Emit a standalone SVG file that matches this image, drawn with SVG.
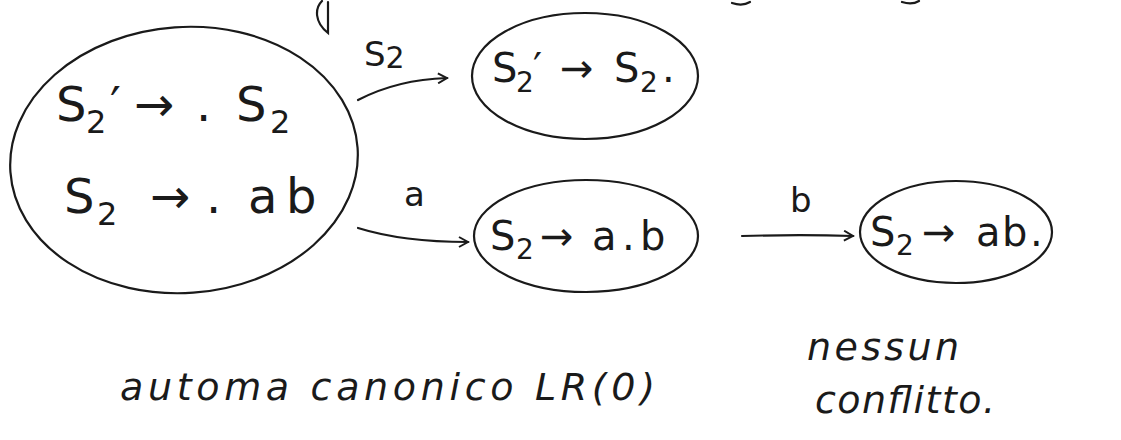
<svg xmlns="http://www.w3.org/2000/svg" width="1121" height="440" viewBox="0 0 1121 440">
<style>
.st{fill:none;stroke:#1a1a1a;stroke-width:2.2;stroke-linecap:round}
.t{font-family:"DejaVu Sans",sans-serif;fill:#1a1a1a}
.big{font-size:48px}
.bsub{font-size:32px}
.mid{font-size:40px}
.msub{font-size:28px}
.lbl{font-size:34px}
.note{font-size:38px;font-style:italic}
</style>
<defs>
<marker id="ah" viewBox="0 0 12 12" refX="10" refY="6" markerWidth="12" markerHeight="12" markerUnits="userSpaceOnUse" orient="auto">
<path d="M1,1 L10,6 L1,11" fill="none" stroke="#1a1a1a" stroke-width="2"/>
</marker>
</defs>
<rect width="1121" height="440" fill="#ffffff"/>
<g id="fragments">
<path class="st" d="M322,1 C315,8 314,22 328,33 L328,2"/>
<path class="st" d="M732,3 C738,5 745,5 750,2"/>
<path class="st" d="M902,2 C908,4 914,4 919,1"/>
</g>
<g id="connectors">
<path class="st" d="M358,100 C385,86 415,79 447,78" marker-end="url(#ah)"/>
<path class="st" d="M358,228 C390,238 430,242 468,242" marker-end="url(#ah)"/>
<path class="st" d="M742,236 C780,235 820,235 853,236" marker-end="url(#ah)"/>
<text class="t lbl" x="364" y="66">S<tspan font-size="30" dy="2">2</tspan></text>
<text class="t lbl" x="404" y="206">a</text>
<text class="t lbl" x="790" y="212">b</text>
</g>
<g id="node-s0">
<ellipse class="st" cx="184" cy="160" rx="174" ry="133" transform="rotate(-4 184 160)"/>
<text class="t big" y="121"><tspan x="56">S</tspan><tspan class="bsub" x="86" dy="12">2</tspan><tspan x="110" dy="-12">′</tspan><tspan x="134">→</tspan><tspan x="196">.</tspan><tspan x="236">S</tspan><tspan class="bsub" x="270" dy="12">2</tspan></text>
<text class="t big" y="213"><tspan x="64">S</tspan><tspan class="bsub" x="97" dy="12">2</tspan><tspan x="150" dy="-12">→</tspan><tspan x="206">.</tspan><tspan x="248">a</tspan><tspan x="286">b</tspan></text>
</g>
<g id="node-s1">
<ellipse class="st" cx="585" cy="76" rx="113" ry="63"/>
<text class="t mid" y="82"><tspan x="492">S</tspan><tspan class="msub" x="516" dy="10">2</tspan><tspan x="533" dy="-10">′</tspan><tspan x="560">→</tspan><tspan x="614">S</tspan><tspan class="msub" x="640" dy="10">2</tspan><tspan x="662" dy="-10">.</tspan></text>
</g>
<g id="node-s2">
<ellipse class="st" cx="586" cy="236" rx="112" ry="56"/>
<text class="t mid" y="250"><tspan x="490">S</tspan><tspan class="msub" x="516" dy="9">2</tspan><tspan x="540" dy="-9">→</tspan><tspan x="592">a</tspan><tspan x="622">.</tspan><tspan x="640">b</tspan></text>
</g>
<g id="node-s3">
<ellipse class="st" cx="956" cy="232" rx="96" ry="51"/>
<text class="t mid" y="246"><tspan x="870">S</tspan><tspan class="msub" x="896" dy="9">2</tspan><tspan x="922" dy="-9">→</tspan><tspan x="976">a</tspan><tspan x="1002">b</tspan><tspan x="1030">.</tspan></text>
</g>
<g id="notes">
<text class="t note" x="120" y="400" textLength="535" lengthAdjust="spacing">automa canonico LR(0)</text>
<text class="t note" x="807" y="360" textLength="152" lengthAdjust="spacing">nessun</text>
<text class="t note" x="815" y="413" textLength="180" lengthAdjust="spacing">conflitto.</text>
</g>
</svg>
